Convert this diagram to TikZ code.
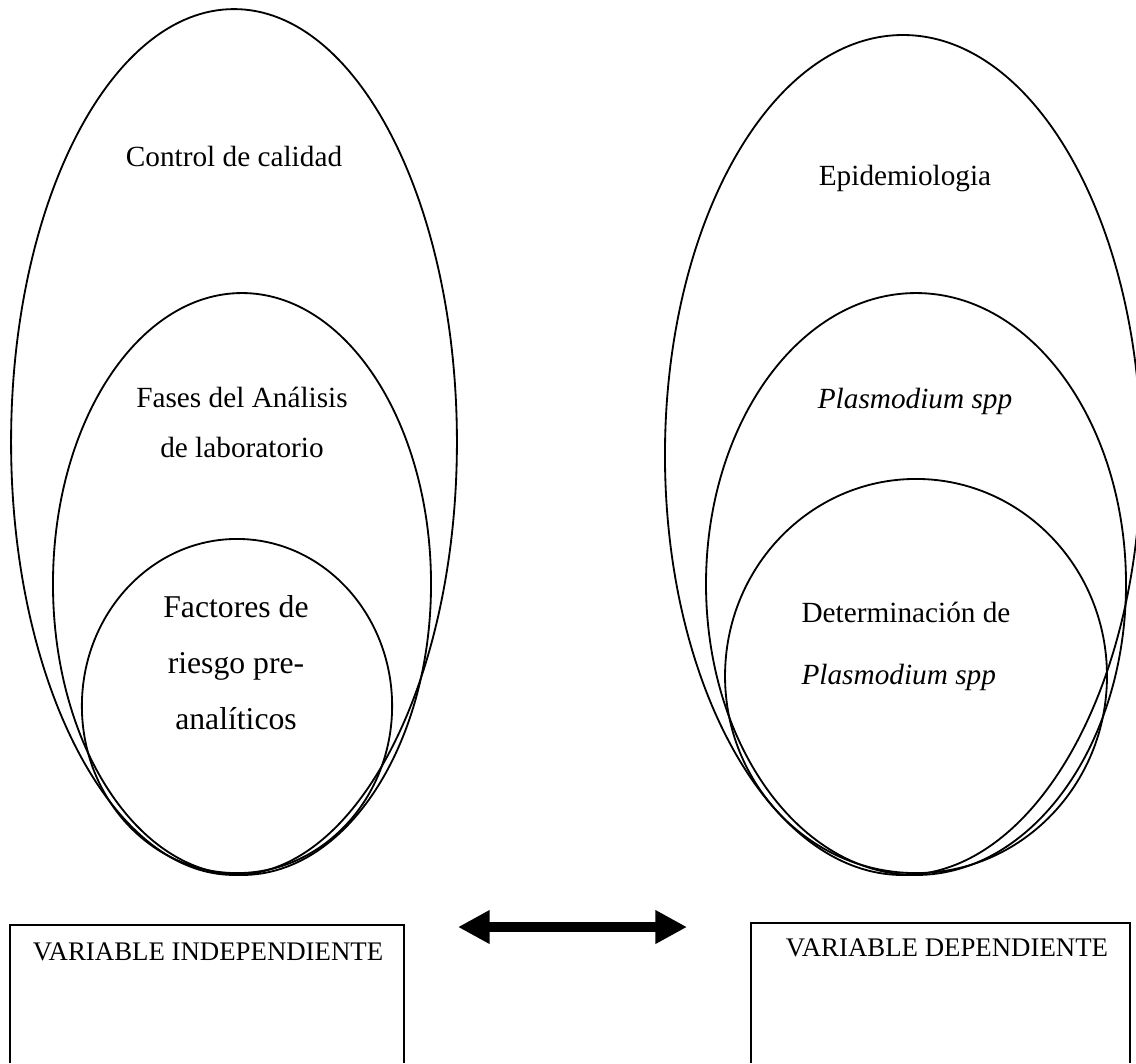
\documentclass[tikz,border=0pt]{standalone}
\usepackage{fontspec}
\setmainfont{Liberation Serif}
\usetikzlibrary{arrows.meta,positioning}

\tikzset{
  oval/.style={line width=0.75pt},
  lbl/.style={font=\fontsize{12}{14}\selectfont, align=center},
  boxline/.style={line width=0.5pt},
  boxtxt/.style={font=\fontsize{11}{13}\selectfont},
  bigtip/.style={line width=4.1pt, {Triangle[length=13pt,width=13pt]}-{Triangle[length=13pt,width=13pt]}}
}

\begin{document}
\begin{tikzpicture}[x=0.41pt,y=-0.41pt]
	\useasboundingbox (0,0) rectangle (1136,1063);
	\begin{scope}
		%\draw[style=help lines] (0,0) grid (460,880);
		\draw[oval] (234,442) ellipse (91.4pt and 177.5pt);
		\draw[oval] (242,584) ellipse (77.5pt and 119.3pt);
		\draw[oval] (237,706) ellipse (63.6pt and 68.5pt);
		\node[lbl] (ctrl) at (234,156) {Control de calidad};
		\node[lbl, font=\fontsize{12}{20.5}\selectfont] (fases) at (242,422) {Fases del Análisis\\de laboratorio};
		\node[lbl, font=\fontsize{13}{23}\selectfont] (factores) at (236,663) {Factores de\\riesgo pre-\\analíticos};
	\end{scope}
	\begin{scope}
		%\draw[style=help lines] (660,0) grid (1136,880);
		\draw[oval] (903,455) ellipse (97.6pt and 172.2pt);
		\draw[oval] (916,584) ellipse (86.1pt and 119.3pt);
		\draw[oval] (916,676) ellipse (78.3pt and 80.8pt);
		\node[lbl] (epid) at (905,178) {Epidemiologia};
		\node[lbl] (plasm) at (915,401) {\textit{Plasmodium spp}};
		\node[lbl, align=left, font=\fontsize{12}{25.4}\selectfont] (determ) at (906,646) {Determinación de\\\textit{Plasmodium spp}};
	\end{scope}
	% variables
	\draw[boxline] (10,1063) -- (10,925) -- (404,925) -- (404,1063);
	\draw[boxline] (751,1063) -- (751,923) -- (1130,923) -- (1130,1063);
	\node[boxtxt] (indep) at (208,952) {VARIABLE INDEPENDIENTE};
	\node[boxtxt] (dep) at (947,948) {VARIABLE DEPENDIENTE};
	\coordinate (lefttip) at (458,927);
	\coordinate (righttip) at (687,927);
	\draw[bigtip] (lefttip) -- (righttip);
\end{tikzpicture}
\end{document}
